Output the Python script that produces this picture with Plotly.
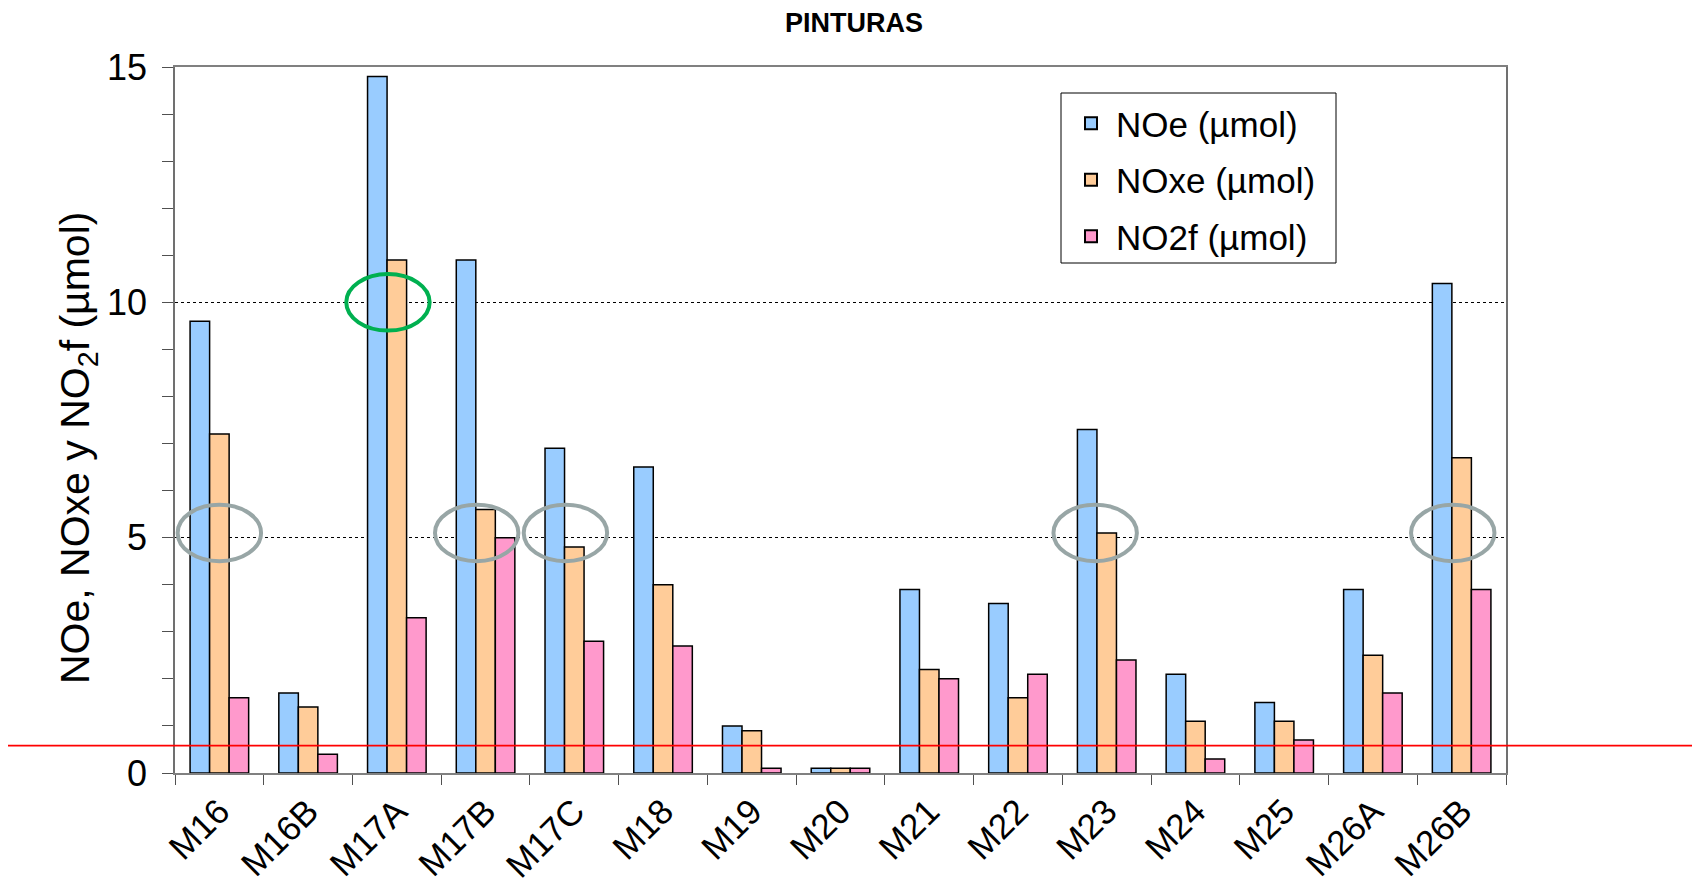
import plotly.graph_objects as go

categories = ["M16", "M16B", "M17A", "M17B", "M17C", "M18", "M19", "M20",
              "M21", "M22", "M23", "M24", "M25", "M26A", "M26B"]
noe = [9.6, 1.7, 14.8, 10.9, 6.9, 6.5, 1.0, 0.1, 3.9, 3.6, 7.3, 2.1, 1.5, 3.9, 10.4]
noxe = [7.2, 1.4, 10.9, 5.6, 4.8, 4.0, 0.9, 0.1, 2.2, 1.6, 5.1, 1.1, 1.1, 2.5, 6.7]
no2f = [1.6, 0.4, 3.3, 5.0, 2.8, 2.7, 0.1, 0.1, 2.0, 2.1, 2.4, 0.3, 0.7, 1.7, 3.9]
series_names = ["NOe (µmol)", "NOxe (µmol)", "NO2f (µmol)"]
series_colors = ["#99CCFF", "#FFCC99", "#FF99CC"]

# highlighted points (category, y-centre)
grey_marks = [("M16", 5.1), ("M17B", 5.1), ("M17C", 5.1), ("M23", 5.1), ("M26B", 5.1)]
green_marks = [("M17A", 10.0)]
threshold = 0.58

FONT = "Liberation Sans, Arial, sans-serif"

# the page body adds an 8px offset, so the figure is drawn 8px smaller
W, H = 1692, 876

fig = go.Figure()
for k, (name, vals, col) in enumerate(zip(series_names, [noe, noxe, no2f], series_colors)):
    fig.add_trace(go.Bar(x=categories, y=vals, name=name, legendgroup=f"g{k}",
                         marker=dict(color=col, line=dict(color="black", width=1.5))))

shapes = []
offsets = {"M16": 0.0, "M17A": -0.1, "M17B": -0.1, "M17C": -0.1, "M23": -0.13, "M26B": -0.1}
for marks, col in [(grey_marks, "#98A6A6"), (green_marks, "#00B050")]:
    for cat, yc in marks:
        i = categories.index(cat) + offsets.get(cat, 0.0)
        shapes.append(dict(type="circle", xref="x", yref="y",
                           x0=i - 0.47, x1=i + 0.47, y0=yc - 0.6, y1=yc + 0.6,
                           line=dict(color=col, width=4)))

ml, mr, mt, mb = 167, 194, 59, 111
pw = W - ml - mr
ph = H - mt - mb
shapes.append(dict(type="line", xref="paper", yref="y",
                   x0=-0.2, x1=1.2, y0=threshold, y1=threshold,
                   line=dict(color="red", width=1.8)))

# legend frame (drawn as a box to match the reference's padding)
lx0, lx1, ly0, ly1 = 1053, 1328, 85, 255
shapes.append(dict(type="rect", xref="paper", yref="paper", layer="above",
                   x0=(lx0 - ml) / pw, x1=(lx1 - ml) / pw,
                   y0=1 - (ly1 - mt) / ph, y1=1 - (ly0 - mt) / ph,
                   line=dict(color="black", width=1), fillcolor="rgba(0,0,0,0)"))

fig.update_layout(
    width=W, height=H,
    margin=dict(l=ml, r=mr, t=mt, b=mb, autoexpand=False),
    paper_bgcolor="white", plot_bgcolor="white",
    font=dict(family=FONT, color="black"),
    barmode="group", bargap=0.34, bargroupgap=0,
    title=dict(text="<b>PINTURAS</b>", x=0.5, xanchor="center", y=1 - 15 / H, yanchor="middle",
               font=dict(size=27, family=FONT, color="black")),
    shapes=shapes,
    legend=dict(x=(1058 - ml) / pw, y=1 - (86 - mt) / ph, xanchor="left", yanchor="top",
                borderwidth=0, bgcolor="rgba(255,255,255,0)",
                font=dict(size=35, family=FONT), tracegroupgap=8,
                traceorder="grouped", itemsizing="constant", itemwidth=40),
    showlegend=True,
    annotations=[dict(text="NOe, NOxe y NO<sub>2</sub>f (µmol)", textangle=-90,
                      xref="paper", yref="paper", x=(70 - ml) / pw, y=(765 - 440) / ph,
                      xanchor="center", yanchor="middle", showarrow=False,
                      font=dict(size=41, family=FONT, color="black"))],
)
fig.update_xaxes(
    type="category", tickangle=-45, tickfont=dict(size=35, family=FONT),
    showline=True, linecolor="#808080", linewidth=1.5, mirror=True,
    ticks="outside", tickson="boundaries", ticklen=10, tickcolor="#505050",
    ticklabelstandoff=2,
    showgrid=False, automargin=False,
)
fig.update_yaxes(
    range=[0, 15], dtick=5, tickfont=dict(size=36, family=FONT),
    showline=True, linecolor="#707070", linewidth=1.5, mirror=True,
    ticks="outside", ticklen=11, tickcolor="#505050", ticklabelstandoff=8,
    minor=dict(dtick=1, ticks="outside", ticklen=11, tickcolor="#505050", showgrid=False),
    showgrid=True, gridcolor="black", griddash="dot", gridwidth=1,
    zeroline=False, automargin=False,
)

fig.write_html("out.html")
